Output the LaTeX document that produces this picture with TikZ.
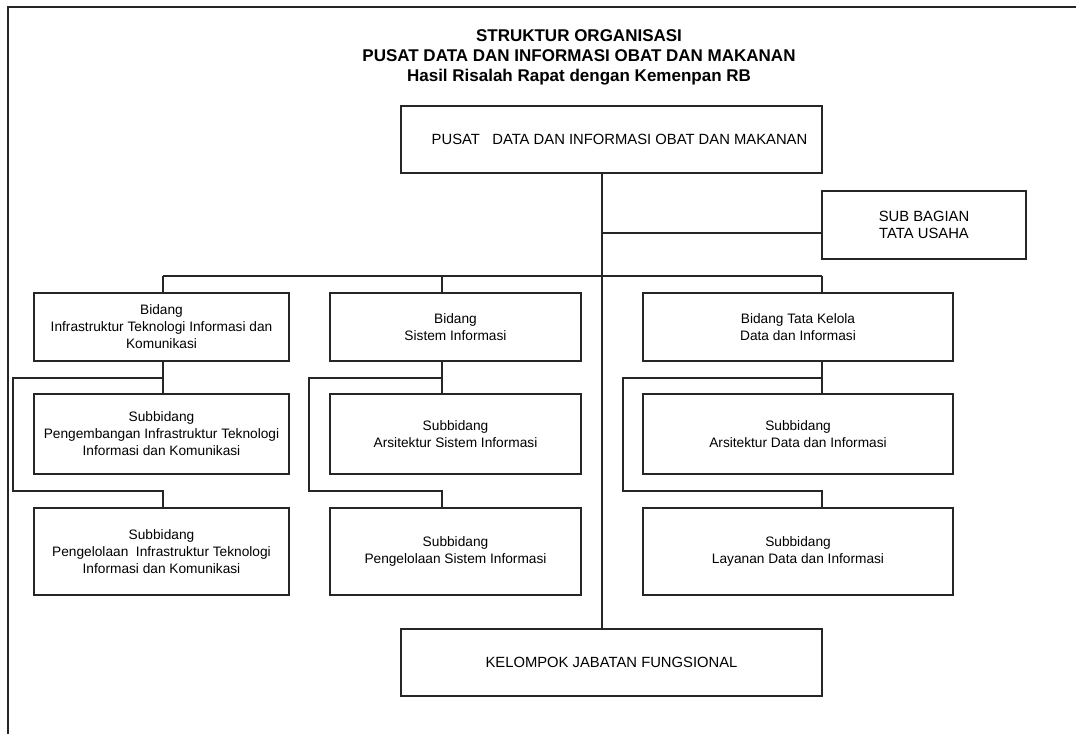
\documentclass[tikz,border=0pt]{standalone}
\usepackage{fontspec}
\setmainfont{Liberation Sans}
\begin{document}
\begin{tikzpicture}[x=1pt,y=-1pt,
  ln/.style={draw=black!85, line width=1.1pt},
  box/.style={draw=black!85, line width=1.3pt, fill=white, inner sep=0pt, align=center,
    font=\fontsize{13.7}{17}\selectfont},
  capbox/.style={box, font=\fontsize{14.8}{17}\selectfont},
  title/.style={align=center, inner sep=0pt, font=\bfseries\fontsize{17}{20}\selectfont}]
\useasboundingbox (0,0) rectangle (1076,734);
% outer frame
\draw[ln] (8,734) -- (8,7) -- (1076,7);
% title
\node[title] (title) at (579,57) {STRUKTUR ORGANISASI\\PUSAT DATA DAN INFORMASI OBAT DAN MAKANAN\\Hasil Risalah Rapat dengan Kemenpan RB};
% boxes
\node[capbox, minimum width=421pt, minimum height=67pt] (pusat) at (611.5,139.5) {\hspace{16pt}PUSAT\ \ \ DATA DAN INFORMASI OBAT DAN MAKANAN};
\node[capbox, minimum width=204pt, minimum height=68pt] (tu) at (924,225) {SUB BAGIAN\\TATA USAHA};
\node[box, minimum width=255pt, minimum height=68pt] (b1) at (161.5,327) {Bidang\\Infrastruktur Teknologi Informasi dan\\Komunikasi};
\node[box, minimum width=251pt, minimum height=68pt] (b2) at (455.5,327) {Bidang\\Sistem Informasi};
\node[box, minimum width=310pt, minimum height=68pt] (b3) at (798,327) {Bidang Tata Kelola\\Data dan Informasi};
\node[box, minimum width=255pt, minimum height=80pt] (s11) at (161.5,434) {Subbidang\\Pengembangan Infrastruktur Teknologi\\Informasi dan Komunikasi};
\node[box, minimum width=255pt, minimum height=87pt] (s12) at (161.5,551.5) {Subbidang\\Pengelolaan\ \ Infrastruktur Teknologi\\Informasi dan Komunikasi};
\node[box, minimum width=251pt, minimum height=80pt] (s21) at (455.5,434) {Subbidang\\Arsitektur Sistem Informasi};
\node[box, minimum width=251pt, minimum height=87pt] (s22) at (455.5,551.5) {Subbidang\\Pengelolaan Sistem Informasi};
\node[box, minimum width=310pt, minimum height=80pt] (s31) at (798,434) {Subbidang\\Arsitektur Data dan Informasi};
\node[box, minimum width=310pt, minimum height=87pt] (s32) at (798,551.5) {Subbidang\\Layanan Data dan Informasi};
\node[capbox, minimum width=421pt, minimum height=67pt] (kjf) at (611.5,662.5) {KELOMPOK JABATAN FUNGSIONAL};
% helper coordinates
\coordinate (tx) at (602,0);
\coordinate (ty) at (0,233);
\coordinate (c1) at (163,276);
\coordinate (c2) at (442,276);
\coordinate (c3) at (822,276);
\coordinate (k1) at (13,378);
\coordinate (k1b) at (13,491);
\coordinate (k2) at (309,378);
\coordinate (k2b) at (309,491);
\coordinate (k3) at (623,378);
\coordinate (k3b) at (623,491);
% connectors
\draw[ln] (pusat.south -| tx) -- (kjf.north -| tx);
\draw[ln] (tx |- ty) -- (tu.west |- ty);
\draw[ln] (c1) -- (c3);
\draw[ln] (c1) -- (c1 |- b1.north);
\draw[ln] (c2) -- (c2 |- b2.north);
\draw[ln] (c3) -- (c3 |- b3.north);
% column 1
\draw[ln] (c1 |- b1.south) -- (c1 |- s11.north);
\draw[ln] (c1 |- k1) -- (k1) -- (k1b) -- (c1 |- k1b) -- (c1 |- s12.north);
% column 2
\draw[ln] (c2 |- b2.south) -- (c2 |- s21.north);
\draw[ln] (c2 |- k2) -- (k2) -- (k2b) -- (c2 |- k2b) -- (c2 |- s22.north);
% column 3
\draw[ln] (c3 |- b3.south) -- (c3 |- s31.north);
\draw[ln] (c3 |- k3) -- (k3) -- (k3b) -- (c3 |- k3b) -- (c3 |- s32.north);
\end{tikzpicture}
\end{document}
